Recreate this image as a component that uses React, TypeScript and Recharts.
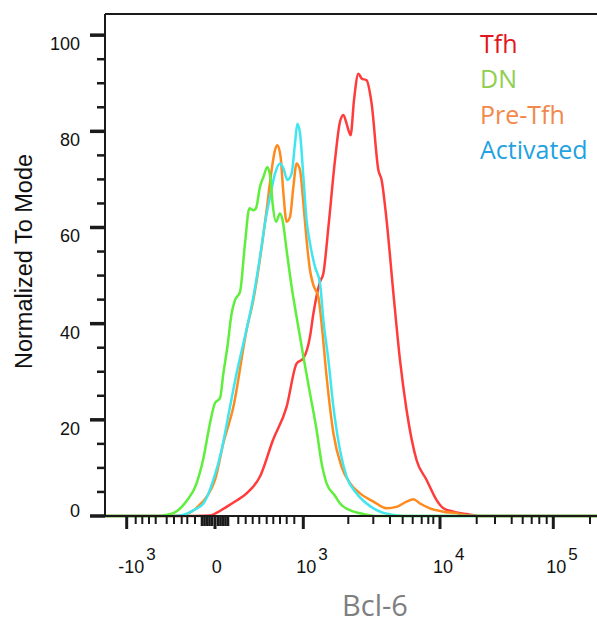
// Bcl-6 histogram overlay, normalized to mode (FlowJo-style biexponential axis)
import { LineChart, Line, XAxis, YAxis, ReferenceLine } from 'recharts';

// x = display channel on the biex axis, y = % of mode
const X_MAX = 246;
const Y_MAX = 104.4;

const TFH: [number, number][] = [
  [0, 0], [45, 0], [52.5, 0.1], [56, 0.7], [60.8, 1.9], [65, 3], [70.8, 4.7], [77.5, 8.2],
  [84, 15.8], [90.8, 22.7], [95.8, 31.7], [99.2, 32.8], [102.5, 37.3], [104.2, 42.1],
  [107.5, 48.7], [109.2, 50.5], [111.7, 60.1], [115, 74], [117.5, 82], [119.2, 83.4],
  [120.8, 81.6], [122.8, 79.2], [124.5, 86.5], [126.7, 92], [128.3, 91], [130.8, 90.6],
  [133.3, 85.8], [136.7, 71.9], [138.3, 69.9], [140.8, 61.5], [144.2, 46.3], [147.5, 32.4],
  [150.8, 22], [155.8, 11.6], [160.8, 7.5], [165.8, 3.3], [169.2, 1.6], [174.2, 0.9],
  [180.8, 0.4], [188, 0], [246, 0],
];

const DN: [number, number][] = [
  [0, 0], [27, 0], [30, 0.2], [34.2, 0.6], [40.8, 3.1], [45.8, 6.8], [49.2, 12], [52.5, 19.3],
  [55, 23.5], [57.5, 24.5], [59.2, 29.7], [61.2, 35.2], [63.3, 42.1], [65, 44.9], [67.5, 46.6],
  [70, 56.7], [72.2, 64], [74.2, 63.6], [75.5, 64], [77.5, 68.5], [79.2, 70.5], [81.2, 72.6],
  [82.8, 69.9], [83.8, 65], [85.5, 61.2], [87.5, 62.9], [88.8, 61.5], [90.8, 55.3], [93.3, 47.7],
  [95.8, 41.4], [97.5, 37.3], [99.2, 33.1], [102.5, 25.5], [105.8, 17.9], [108.3, 11],
  [110.8, 6.8], [115, 4.2], [117.5, 2.6], [122.5, 1.2], [129.2, 0.4], [135.8, 0], [246, 0],
];

const PRE_TFH: [number, number][] = [
  [0, 0], [37, 0], [39, 0.1], [42, 0.6], [45.8, 1.7], [51.5, 4.4], [55, 7.5], [59.2, 15.2],
  [64.2, 22.7], [70.8, 38.7], [74.2, 45], [77.5, 53.5], [80.8, 63.6], [83.3, 71.9], [85, 76.1],
  [86.2, 77.1], [87.8, 74.7], [89.2, 67.1], [90.8, 61.2], [92.5, 62.2], [94.2, 68.5],
  [95.8, 73.3], [97.5, 71.9], [99.2, 65], [100.8, 57.4], [102.5, 51.1], [104.2, 48],
  [106.7, 45.5], [108.3, 40], [110.8, 29], [114.2, 17.2], [118.3, 10.2], [122.5, 6.8],
  [127.5, 4.7], [134.2, 3], [140.8, 1.6], [145.8, 1.9], [150.8, 3], [154.2, 3.5], [157.5, 2.6],
  [162.5, 1.6], [169.2, 0.9], [175.8, 0.6], [180.8, 0.1], [186, 0], [246, 0],
];

const ACTIVATED: [number, number][] = [
  [0, 0], [35, 0], [37.5, 0.1], [41, 0.5], [44.2, 1.2], [49.2, 2.6], [54.2, 7.5], [58.3, 13.7],
  [62.5, 22.7], [65.8, 29.7], [69.2, 35.9], [74.2, 45.6], [77.5, 53.9], [80, 60.9], [82.5, 66.4],
  [85, 71.2], [87.5, 73.3], [89.2, 72.3], [91.2, 69.9], [93.3, 71.2], [95, 77.5], [96.2, 81.6],
  [97.5, 79.6], [99.2, 70.5], [100.8, 61.5], [102.5, 56.7], [105, 51.8], [107.5, 48.4],
  [109.2, 40.7], [111.7, 32.4], [114.2, 22.7], [117.5, 13.7], [120.8, 8.2], [125.8, 4.7],
  [130.8, 2.6], [137.5, 0.9], [144.2, 0.2], [150, 0], [246, 0],
];

// legend order as in the figure
const SERIES = [
  { name: 'Tfh', data: TFH, stroke: '#ff3b3b', legend: '#e3151c' },
  { name: 'DN', data: DN, stroke: '#5eee3c', legend: '#8fcf50' },
  { name: 'Pre-Tfh', data: PRE_TFH, stroke: '#ff8a1e', legend: '#f3884a' },
  { name: 'Activated', data: ACTIVATED, stroke: '#3fe6f0', legend: '#1fa2df' },
];
// DN is drawn last so it sits on top along the baseline
const DRAW_ORDER = ['Tfh', 'Pre-Tfh', 'Activated', 'DN'];

// biex axis ticks, in display channels
const X_MAJOR = [
  { at: 10.85, base: '-10', exp: '3' },
  { at: 55, base: '0', exp: '' },
  { at: 99.15, base: '10', exp: '3' },
  { at: 167.5, base: '10', exp: '4' },
  { at: 224.15, base: '10', exp: '5' },
];
const X_NEAR_ZERO = [48.5, 49.75, 51, 52.25, 53.5, 56.5, 57.75, 59, 60.25, 61.5];
const X_MINOR = [
  15.35, 18.65, 22, 25.35, 30.85, 34.5, 38.35, 41.15, 45,
  66.65, 70.35, 73.85, 77.15, 80.85, 84.15, 87.5, 90.85, 94.65,
  121.65, 134.15, 142.5, 148.85, 153.85, 158.35, 161.65, 164.15,
  185.85, 195, 203.35, 208.85, 213.35, 217.15, 220.85, 242.5,
];
const X_TICKS = [...X_MAJOR.map((m) => m.at), ...X_NEAR_ZERO, ...X_MINOR].sort((a, b) => a - b);

const Y_TICKS = [0, 5, 10, 15, 20, 25, 30, 35, 40, 45, 50, 55, 60, 65, 70, 75, 80, 85, 90, 95, 100];

const PLOT_LEFT = 105;
const AXIS = '#1a1a1a';
const SANS = '"Liberation Sans", Arial, sans-serif';
const SOFT = '"Open Sans", sans-serif';

const toPoints = (rows: [number, number][]) => rows.map(([x, y]) => ({ x, y }));

function XTick(props: any) {
  const { x, y, payload } = props;
  const major = X_MAJOR.find((m) => m.at === payload.value);
  if (!major) {
    const dense = X_NEAR_ZERO.includes(payload.value);
    return (
      <line x1={x} x2={x} y1={y} y2={y + (dense ? 10 : 8)} stroke={AXIS} strokeWidth={dense ? 2.6 : 2} />
    );
  }
  return (
    <g>
      <line x1={x} x2={x} y1={y} y2={y + 13} stroke={AXIS} strokeWidth={3} />
      {major.exp ? (
        <text x={x - (major.base === '-10' ? 8.5 : 7)} y={573} fontSize={18} fontFamily={SANS} fill="#111">
          {major.base}
          <tspan dx={2} dy={-13} fontSize={17}>{major.exp}</tspan>
        </text>
      ) : (
        <text x={x + 1.7} y={573} fontSize={18} fontFamily={SANS} fill="#111" textAnchor="middle">
          {major.base}
        </text>
      )}
    </g>
  );
}

// every tick gets its own mark; labelled ones are longer and heavier
function YTick(props: any) {
  const { y, payload } = props;
  const v = Number(payload.value);
  const major = v % 20 === 0;
  const len = major ? 15 : 8;
  const w = major ? 3.5 : 2.5;
  return (
    <g>
      <rect x={PLOT_LEFT - len} y={y - w / 2} width={len} height={w} fill={AXIS} />
      {major && (
        <text x={80} y={v === 0 ? y + 1 : y + 15} textAnchor="end" fontSize={18} fontFamily={SANS} fill="#111">
          {v}
        </text>
      )}
    </g>
  );
}

const renderYTitle = () => (
  <text
    x={31.5}
    y={261.5}
    transform="rotate(-90 31.5 261.5)"
    textAnchor="middle"
    fontSize={23.5}
    fontFamily={SANS}
    fill="#111"
  >
    Normalized To Mode
  </text>
);

const renderXTitle = () => (
  <text x={375} y={616} textAnchor="middle" fontSize={29} fontFamily={SOFT} fill="#7f7f7f">
    Bcl-6
  </text>
);

export default function App() {
  return (
    <div style={{ position: 'absolute', left: 0, top: 0, width: 597, height: 623, background: '#fff' }}>
      <LineChart width={597} height={623} margin={{ top: 14, right: 0, bottom: 0, left: 0 }}>
        <XAxis
          type="number"
          dataKey="x"
          domain={[0, X_MAX]}
          allowDataOverflow
          ticks={X_TICKS}
          interval={0}
          tick={XTick}
          tickLine={false}
          tickSize={0}
          tickMargin={0}
          height={107}
          axisLine={{ stroke: AXIS, strokeWidth: 2 }}
          label={renderXTitle}
        />
        <YAxis
          type="number"
          domain={[0, Y_MAX]}
          ticks={Y_TICKS}
          interval={0}
          tick={YTick}
          tickLine={false}
          tickSize={0}
          tickMargin={0}
          width={PLOT_LEFT}
          axisLine={{ stroke: AXIS, strokeWidth: 2 }}
          label={renderYTitle}
        />
        <ReferenceLine y={Y_MAX} stroke={AXIS} strokeWidth={2} />
        {DRAW_ORDER.map((name) => {
          const s = SERIES.find((d) => d.name === name)!;
          return (
            <Line
              key={s.name}
              name={s.name}
              data={toPoints(s.data)}
              dataKey="y"
              type="monotone"
              stroke={s.stroke}
              strokeWidth={2.5}
              dot={false}
              activeDot={false}
              isAnimationActive={false}
            />
          );
        })}
      </LineChart>
      {/* 범례 */}
      <div
        style={{
          position: 'absolute',
          left: 480,
          top: 25.5,
          fontFamily: SOFT,
          fontSize: 25,
          lineHeight: '35.5px',
        }}
      >
        {SERIES.map((s) => (
          <div key={s.name} style={{ color: s.legend }}>{s.name}</div>
        ))}
      </div>
    </div>
  );
}
